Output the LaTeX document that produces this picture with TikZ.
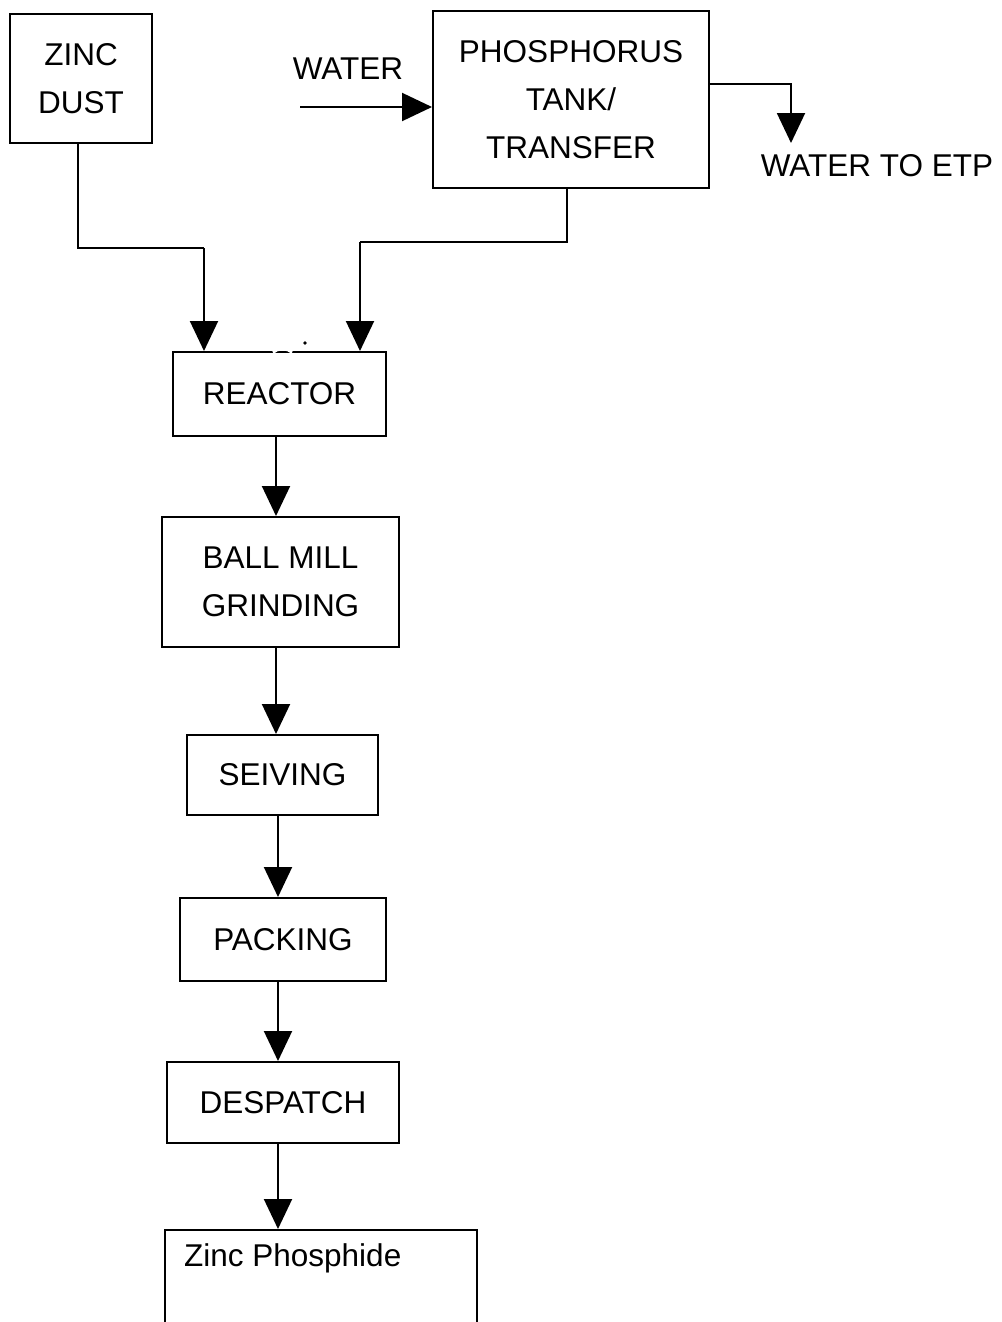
\documentclass[tikz,border=0pt]{standalone}
\usepackage{fontspec}
\setmainfont{Liberation Sans}
\usetikzlibrary{arrows.meta}
\begin{document}
\begin{tikzpicture}[x=1pt,y=-1pt,
  box/.style={draw, line width=2pt, inner sep=0pt, align=center, font=\fontsize{31.5}{48}\selectfont},
  lbl/.style={inner sep=0pt, font=\fontsize{31.5}{48}\selectfont},
  arr/.style={line width=2pt, -{Triangle[length=30pt,width=28pt]}},
  ln/.style={line width=2pt}]
\useasboundingbox (0,0) rectangle (1001,1322);
\clip (0,0) rectangle (1001,1322);
\fill[white] (0,0) rectangle (1001,1322);
% boxes
\node[box, minimum width=142pt, minimum height=129pt] (zinc) at (81,78.5) {ZINC\\DUST};
\node[box, minimum width=276pt, minimum height=177pt] (phos) at (571,99.5) {PHOSPHORUS\\TANK/\\TRANSFER};
\node[box, minimum width=213pt, minimum height=84pt] (reactor) at (279.5,394) {REACTOR};
\node[box, minimum width=237pt, minimum height=130pt] (ball) at (280.5,582) {BALL MILL\\GRINDING};
\node[box, minimum width=191pt, minimum height=80pt] (seiving) at (282.5,775) {SEIVING};
\node[box, minimum width=206pt, minimum height=83pt] (packing) at (283,939.5) {PACKING};
\node[box, minimum width=232pt, minimum height=81pt] (despatch) at (283,1102.5) {DESPATCH};
\node[draw, line width=2pt, minimum width=312pt, minimum height=200pt, anchor=north west, inner sep=0pt] (zp) at (164,1229) {};
\node[lbl, anchor=west] (zptext) at (184,1258) {Zinc Phosphide};
% labels
\node[lbl] (water) at (348,69) {WATER};
\node[lbl] (etp) at (877,166) {WATER TO ETP};
\coordinate (win) at (300,107);
\coordinate (etptop) at (791,143);
\coordinate (zjoin) at (204,248);
\coordinate (pjoin) at (360,242);
% connectors
\draw[arr] (win) -- (win -| phos.west);
\draw[arr] (phos.east |- 0,84) -| (etptop);
\draw[ln] (zinc.south -| 78,0) |- (zjoin);
\draw[arr] (zjoin) -- (zjoin |- reactor.north);
\draw[ln] (phos.south -| 567,0) |- (pjoin);
\draw[arr] (pjoin) -- (pjoin |- reactor.north);
\draw[arr] (reactor.south -| 276,0) -- (ball.north -| 276,0);
\draw[arr] (ball.south -| 276,0) -- (seiving.north -| 276,0);
\draw[arr] (seiving.south -| 278,0) -- (packing.north -| 278,0);
\draw[arr] (packing.south -| 278,0) -- (despatch.north -| 278,0);
\draw[arr] (despatch.south -| 278,0) -- (zp.north -| 278,0);
% small marks near reactor top
\fill (305,343) circle (1.8pt);
\draw[white, line width=2.5pt] (273,352.5) .. controls (278,348) and (287,348) .. (292,352.5);
\end{tikzpicture}
\end{document}
